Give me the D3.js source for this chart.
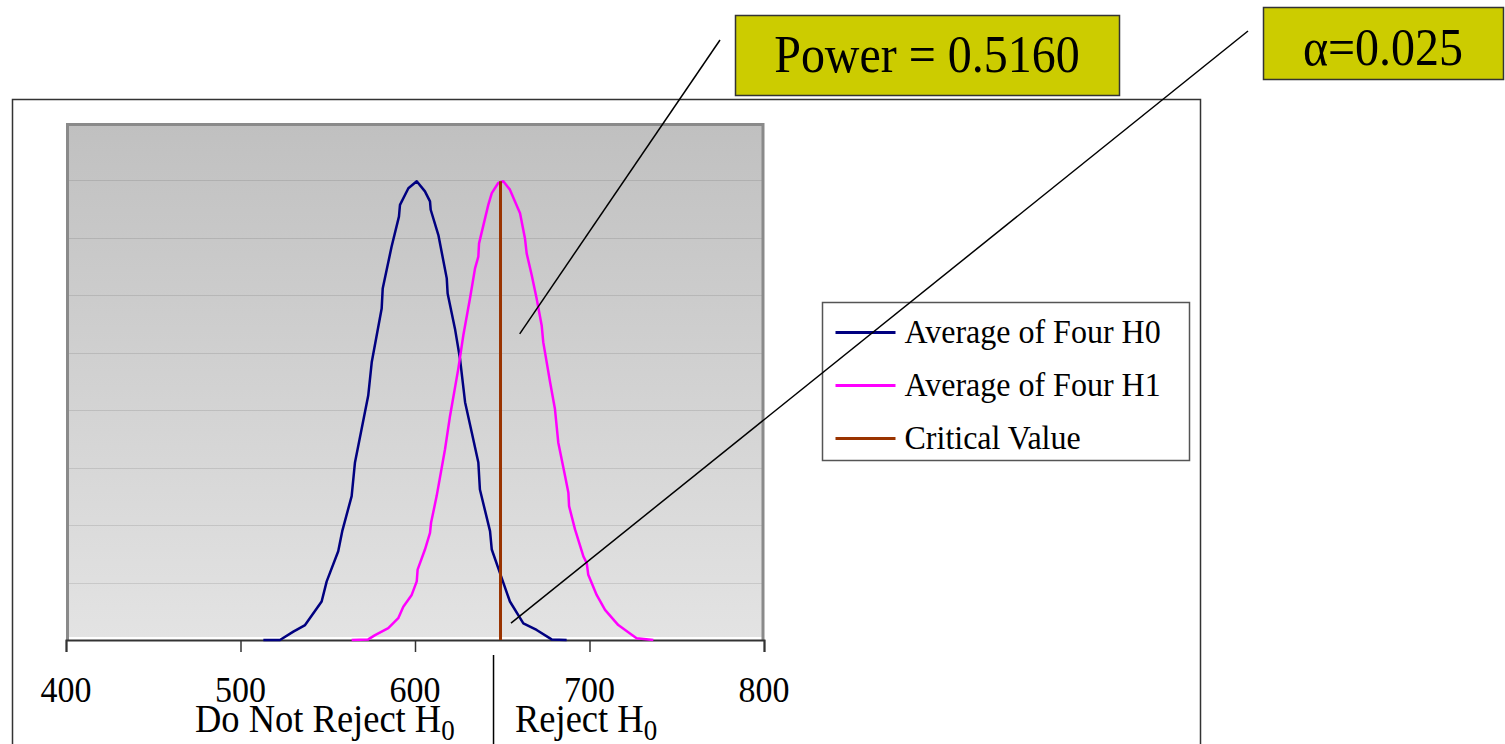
<!DOCTYPE html>
<html>
<head>
<meta charset="utf-8">
<script src="https://cdn.jsdelivr.net/npm/d3@7"></script>
<style>
  html, body { margin: 0; padding: 0; background: #fff; }
  svg { display: block; }
  text { font-family: "Liberation Serif", "Times New Roman", serif; fill: #000; }
</style>
</head>
<body>
<div id="chart"></div>
<script>
// Sampled curve for the mean of four under H0 (value, density)
const h0Values = [513.1, 522.6, 530.3, 537.0, 546.5, 549.4, 556.0, 558.3, 563.7, 565.6, 573.2, 575.2, 580.9, 581.5, 586.6, 590.8, 591.4, 596.2, 601.0, 605.7, 608.6, 609.0, 613.4, 618.2, 618.7, 622.9, 625.8, 628.7, 632.5, 636.3, 637.2, 643.0, 644.0, 648.7, 654.4, 662.1, 669.7, 678.3, 686.9];
const h0Density = [0, 0, 0.00029, 0.00052, 0.00134, 0.00204, 0.00309, 0.00379, 0.00501, 0.00618, 0.00851, 0.00967, 0.01154, 0.01224, 0.01370, 0.01474, 0.01515, 0.01573, 0.01597, 0.01562, 0.01527, 0.01498, 0.01410, 0.01259, 0.01206, 0.01084, 0.00979, 0.00828, 0.00723, 0.00618, 0.00524, 0.00379, 0.00315, 0.00233, 0.00134, 0.00058, 0.00035, 0.00002, 0];

// Sampled curve for the mean of four under H1
const h1Values = [563.7, 573.2, 577.1, 584.7, 590.4, 593.3, 598.1, 601.0, 601.5, 605.7, 608.6, 609.2, 612.4, 617.2, 620.1, 624.8, 627.7, 631.5, 634.4, 636.3, 636.7, 642.0, 644.0, 647.7, 650.6, 654.4, 660.2, 663.0, 664.0, 666.9, 669.7, 672.6, 673.5, 677.4, 680.2, 682.1, 686.0, 687.9, 688.3, 691.7, 696.5, 698.4, 699.3, 704.1, 708.9, 716.5, 723.2, 727.0, 736.6];
const h1Density = [0, 0.00002, 0.00017, 0.00041, 0.00076, 0.00116, 0.00157, 0.00204, 0.00245, 0.00315, 0.00373, 0.00408, 0.00501, 0.00664, 0.00781, 0.00944, 0.01061, 0.01189, 0.01294, 0.01335, 0.01381, 0.01515, 0.01556, 0.01591, 0.01597, 0.01568, 0.01486, 0.01399, 0.01346, 0.01270, 0.01189, 0.01095, 0.01037, 0.00898, 0.00804, 0.00688, 0.00571, 0.00513, 0.00466, 0.00385, 0.00291, 0.00268, 0.00227, 0.00157, 0.00105, 0.00052, 0.00023, 0.00006, 0];

// Critical value line
const criticalValue = [649, 649];
const criticalDensity = [0, 0.01597];

const xTicks = [400, 500, 600, 700, 800];
const yGrid = [0.002, 0.004, 0.006, 0.008, 0.010, 0.012, 0.014, 0.016];
const legendLabels = ['Average of Four H0', 'Average of Four H1', 'Critical Value'];
const colors = ['#000080', '#ff00ff', '#993300'];

// Callout texts and where their pointers land (data units)
const powerText = 'Power = 0.5160';
const alphaText = '\u03b1=0.025';
const powerPoint = [660, 0.01066];
const alphaPoint = [655, 0.00059];
const splitValue = 645;

const width = 1505, height = 744;
const plot = { left: 66, right: 764, top: 123, bottom: 640 };
const stretch = 1.08; // reference glyphs are a little taller than wide

const svg = d3.select('#chart')
  .append('svg')
  .attr('width', width)
  .attr('height', height);

// text placed at (x, y) and stretched upward from its baseline
function addText(parent, x, y, size, anchor) {
  return parent.append('text')
    .attr('transform', `translate(${x},${y}) scale(1,${stretch})`)
    .attr('font-size', size)
    .attr('text-anchor', anchor || 'start');
}

const defs = svg.append('defs');
const grad = defs.append('linearGradient')
  .attr('id', 'plotBg')
  .attr('x1', 0).attr('y1', 0).attr('x2', 0).attr('y2', 1);
grad.append('stop').attr('offset', '0%').attr('stop-color', '#c0c0c0');
grad.append('stop').attr('offset', '100%').attr('stop-color', '#e3e3e3');

// Outer chart frame (runs off the bottom edge)
svg.append('rect')
  .attr('x', 12.5).attr('y', 99.5)
  .attr('width', 1188).attr('height', 700)
  .attr('fill', '#fff')
  .attr('stroke', '#333')
  .attr('stroke-width', 1.5);

// Set up scales
const xScale = d3.scaleLinear()
  .domain([400, 800])
  .range([plot.left, plot.right]);

const yScale = d3.scaleLinear()
  .domain([0, 0.018])
  .range([plot.bottom, plot.top]);

// Plot area background
svg.append('rect')
  .attr('x', plot.left).attr('y', plot.top)
  .attr('width', plot.right - plot.left)
  .attr('height', plot.bottom - plot.top - 3)
  .attr('fill', 'url(#plotBg)');

// Gridlines
svg.append('g')
  .selectAll('line')
  .data(yGrid)
  .enter()
  .append('line')
  .attr('x1', plot.left).attr('x2', plot.right)
  .attr('y1', d => Math.round(yScale(d)) + 0.5)
  .attr('y2', d => Math.round(yScale(d)) + 0.5)
  .attr('stroke', '#000')
  .attr('stroke-opacity', 0.1)
  .attr('stroke-width', 1);

// Plot border: top, left, right
svg.append('path')
  .attr('d', `M${plot.left + 1.5},${plot.bottom} V${plot.top + 1.5} H${plot.right - 1} V${plot.bottom}`)
  .attr('fill', 'none')
  .attr('stroke', '#8a8a8a')
  .attr('stroke-width', 3);

// X axis
const xAxis = d3.axisBottom(xScale)
  .tickValues(xTicks)
  .tickSize(12)
  .tickFormat('');

const axisG = svg.append('g')
  .attr('transform', `translate(0, ${plot.bottom})`)
  .call(xAxis);
axisG.select('.domain').attr('stroke', '#333').attr('stroke-width', 2);
axisG.selectAll('.tick line').attr('stroke', '#333').attr('stroke-width', 1.5);

const tickLabels = svg.append('g');
xTicks.forEach(t => {
  addText(tickLabels, xScale(t), 702, 34, 'middle').text(t);
});

// Curves
const line = d3.line()
  .x(d => xScale(d[0]))
  .y(d => yScale(d[1]));

const series = [
  d3.zip(h0Values, h0Density),
  d3.zip(h1Values, h1Density),
  d3.zip(criticalValue, criticalDensity)
];

svg.append('g')
  .selectAll('path')
  .data(series)
  .enter()
  .append('path')
  .attr('d', line)
  .attr('fill', 'none')
  .attr('stroke', (d, i) => colors[i])
  .attr('stroke-width', (d, i) => i === 2 ? 3 : 2.5)
  .attr('stroke-linejoin', 'round');

// Region labels under the axis
svg.append('line')
  .attr('x1', xScale(splitValue)).attr('x2', xScale(splitValue))
  .attr('y1', 655).attr('y2', height)
  .attr('stroke', '#000')
  .attr('stroke-width', 1.5);

const leftLabel = addText(svg, 195, 732, 36.5);
leftLabel.append('tspan').text('Do Not Reject H');
leftLabel.append('tspan').attr('font-size', 27).attr('dy', 7).text('0');

const rightLabel = addText(svg, 515, 732, 36.5);
rightLabel.append('tspan').text('Reject H');
rightLabel.append('tspan').attr('font-size', 27).attr('dy', 7).text('0');

// Legend
const legend = svg.append('g').attr('transform', 'translate(822.5, 302.5)');
legend.append('rect')
  .attr('width', 367).attr('height', 158)
  .attr('fill', '#fff')
  .attr('stroke', '#555')
  .attr('stroke-width', 1.5);

const items = legend.selectAll('g.item')
  .data(legendLabels)
  .enter()
  .append('g')
  .attr('class', 'item')
  .attr('transform', (d, i) => `translate(0, ${30 + i * 53})`);
items.append('line')
  .attr('x1', 13).attr('x2', 73)
  .attr('stroke', (d, i) => colors[i])
  .attr('stroke-width', 3);
items.each(function (d) {
  addText(d3.select(this), 82, 10, 32).text(d);
});

// Callout pointers
svg.append('line')
  .attr('x1', 720).attr('y1', 40)
  .attr('x2', xScale(powerPoint[0])).attr('y2', yScale(powerPoint[1]))
  .attr('stroke', '#000').attr('stroke-width', 1.5);

svg.append('line')
  .attr('x1', 1248).attr('y1', 31)
  .attr('x2', xScale(alphaPoint[0])).attr('y2', yScale(alphaPoint[1]))
  .attr('stroke', '#000').attr('stroke-width', 1.5);

// Callout boxes
svg.append('rect')
  .attr('x', 735.5).attr('y', 15.5)
  .attr('width', 384).attr('height', 80)
  .attr('fill', '#cccc00')
  .attr('stroke', '#333').attr('stroke-width', 1.5);
addText(svg, 927, 72, 48, 'middle').text(powerText);

svg.append('rect')
  .attr('x', 1263.5).attr('y', 7.5)
  .attr('width', 240).attr('height', 72)
  .attr('fill', '#cccc00')
  .attr('stroke', '#333').attr('stroke-width', 1.5);
addText(svg, 1383, 65, 48, 'middle').text(alphaText);
</script>
</body>
</html>
